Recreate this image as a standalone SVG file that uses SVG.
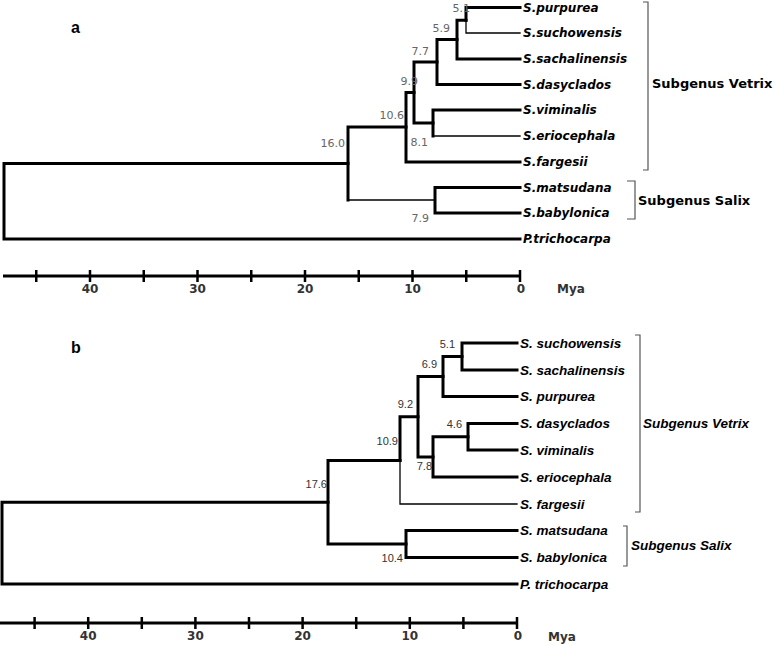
<svg xmlns="http://www.w3.org/2000/svg" width="778" height="645" viewBox="0 0 778 645">
<style>
.thick{fill:none;stroke:#000;stroke-width:3;stroke-linecap:square;stroke-linejoin:miter}
.thin{fill:none;stroke:#000;stroke-width:1.3;stroke-linecap:square}
.br{fill:none;stroke:#555;stroke-width:1.2}
.ax{fill:none;stroke:#000;stroke-width:3}
.tk{fill:none;stroke:#000;stroke-width:2.5}
.na{font-family:"DejaVu Sans",sans-serif;font-size:11px;fill:#666;text-anchor:end}
.nb{font-family:"Liberation Sans",sans-serif;font-size:11px;fill:#333;text-anchor:end}
.sa{font-family:"DejaVu Sans",sans-serif;font-size:12px;font-weight:bold;font-style:italic;fill:#000}
.ga{font-family:"DejaVu Sans",sans-serif;font-size:13px;font-weight:bold;fill:#000}
.sb{font-family:"Liberation Sans",sans-serif;font-size:13.5px;font-weight:bold;font-style:italic;fill:#000}
.axl{font-family:"DejaVu Sans",sans-serif;font-size:12px;font-weight:bold;fill:#333;text-anchor:middle}
.my{font-family:"DejaVu Sans",sans-serif;font-size:12px;font-weight:bold;fill:#333}
.pl{font-family:"Liberation Sans",sans-serif;font-size:16px;font-weight:bold;fill:#000}
</style>
<rect width="778" height="645" fill="#fff"/>
<g id="connectors">
<g id="tree-a-branches">
<path class="thick" d="M520 7.5 H466 V20.25"/>
<path class="thin" d="M466 20.25 V33 H520"/>
<path class="thick" d="M466 20.25 H457 V59 H520"/>
<path class="thick" d="M457 39.6 H437 V84.5 H520"/>
<path class="thick" d="M437 62 H414 V123 H433 V110 H520"/>
<path class="thick" d="M433 123 V136"/>
<path class="thin" d="M433 136 H520"/>
<path class="thick" d="M414 92.5 H406 V162 H520"/>
<path class="thick" d="M406 127 H348 V200"/>
<path class="thin" d="M348 200 H435"/>
<path class="thick" d="M520 187.5 H435 V213 H520"/>
<path class="thick" d="M348 163.5 H4 V239 H520"/>
</g>
<g id="tree-b-branches">
<path class="thick" d="M517 343 H462 V370 H517"/>
<path class="thick" d="M462 356.5 H443 V396.5 H517"/>
<path class="thick" d="M443 376.5 H418 V457 H433"/>
<path class="thick" d="M468 436.75 H433 V477 H517"/>
<path class="thick" d="M517 423.5 H468 V450 H517"/>
<path class="thick" d="M418 416.75 H400 V460.4"/>
<path class="thin" d="M400 460.4 V504 H517"/>
<path class="thick" d="M400 460.4 H328 V544 H406"/>
<path class="thick" d="M517 530.5 H406 V557.5 H517"/>
<path class="thick" d="M328 502.2 H2 V584 H517"/>
</g>
<g id="brackets">
<path class="br" d="M643 2 H648 V170 H643"/>
<path class="br" d="M627 181 H635 V219 H627"/>
<path class="br" d="M635 335 H640 V512 H635"/>
<path class="br" d="M623 526 H627 V566 H623"/>
</g>
</g>
<g id="panel-a">
<text class="pl" x="71" y="33">a</text>
<g id="a-node-labels">
<text class="na" x="470" y="12">5.1</text>
<text class="na" x="450" y="32">5.9</text>
<text class="na" x="429" y="55">7.7</text>
<text class="na" x="418" y="85">9.9</text>
<text class="na" x="404" y="119">10.6</text>
<text class="na" x="345" y="147">16.0</text>
<text class="na" x="428" y="146">8.1</text>
<text class="na" x="429" y="222">7.9</text>
</g>
<g id="a-tips">
<text class="sa" x="523" y="11.5">S.purpurea</text>
<text class="sa" x="523" y="37">S.suchowensis</text>
<text class="sa" x="523" y="63">S.sachalinensis</text>
<text class="sa" x="523" y="88.5">S.dasyclados</text>
<text class="sa" x="523" y="114">S.viminalis</text>
<text class="sa" x="523" y="140">S.eriocephala</text>
<text class="sa" x="523" y="166">S.fargesii</text>
<text class="sa" x="523" y="191.5">S.matsudana</text>
<text class="sa" x="523" y="217">S.babylonica</text>
<text class="sa" x="523" y="243">P.trichocarpa</text>
</g>
<text class="ga" x="652" y="88">Subgenus Vetrix</text>
<text class="ga" x="638" y="205">Subgenus Salix</text>
<g id="a-axis">
<path class="ax" d="M3 276 H520"/>
<path class="tk" d="M36.25 270 V282 M90 270 V282 M143.75 270 V282 M197.5 270 V282 M251.25 270 V282 M305 270 V282 M358.75 270 V282 M412.5 270 V282 M466.25 270 V282 M520 270 V282"/>
<text class="axl" x="90" y="293">40</text>
<text class="axl" x="197.5" y="293">30</text>
<text class="axl" x="305" y="293">20</text>
<text class="axl" x="412.5" y="293">10</text>
<text class="axl" x="521" y="293">0</text>
<text class="my" x="557" y="293">Mya</text>
</g>
</g>
<g id="panel-b">
<text class="pl" x="71" y="353">b</text>
<g id="b-node-labels">
<text class="nb" x="455" y="348">5.1</text>
<text class="nb" x="437" y="368">6.9</text>
<text class="nb" x="462" y="428">4.6</text>
<text class="nb" x="432" y="470">7.8</text>
<text class="nb" x="413" y="408">9.2</text>
<text class="nb" x="398" y="445">10.9</text>
<text class="nb" x="327" y="488">17.6</text>
<text class="nb" x="403" y="562">10.4</text>
</g>
<g id="b-tips">
<text class="sb" x="520" y="347.5">S. suchowensis</text>
<text class="sb" x="520" y="374.5">S. sachalinensis</text>
<text class="sb" x="520" y="401">S. purpurea</text>
<text class="sb" x="520" y="428">S. dasyclados</text>
<text class="sb" x="520" y="454.5">S. viminalis</text>
<text class="sb" x="520" y="481.5">S. eriocephala</text>
<text class="sb" x="520" y="508.5">S. fargesii</text>
<text class="sb" x="520" y="535">S. matsudana</text>
<text class="sb" x="520" y="562">S. babylonica</text>
<text class="sb" x="520" y="588.5">P. trichocarpa</text>
</g>
<text class="sb" x="643" y="428">Subgenus Vetrix</text>
<text class="sb" x="631" y="550">Subgenus Salix</text>
<g id="b-axis">
<path class="ax" d="M0 623 H517"/>
<path class="tk" d="M34.6 617 V629 M88.2 617 V629 M141.8 617 V629 M195.4 617 V629 M249 617 V629 M302.6 617 V629 M356.2 617 V629 M409.8 617 V629 M463.4 617 V629 M517 617 V629"/>
<text class="axl" x="88.2" y="640">40</text>
<text class="axl" x="195.4" y="640">30</text>
<text class="axl" x="302.6" y="640">20</text>
<text class="axl" x="409.8" y="640">10</text>
<text class="axl" x="518" y="640">0</text>
<text class="my" x="548" y="641">Mya</text>
</g>
</g>
</svg>
